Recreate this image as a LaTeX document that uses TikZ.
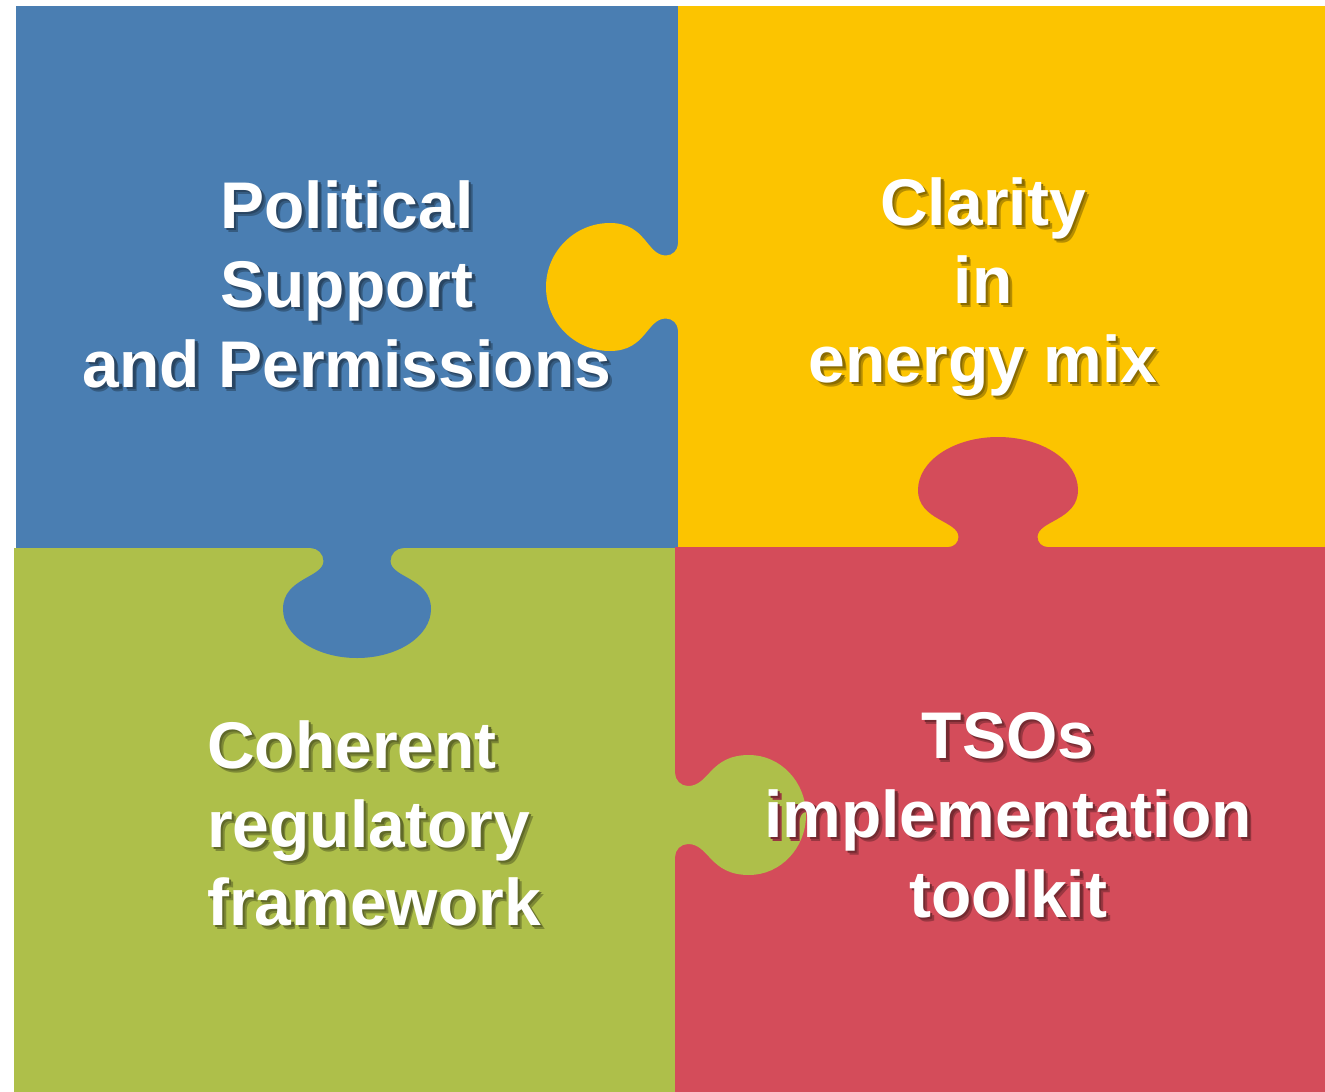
\documentclass[tikz,border=0pt]{standalone}
\usepackage{fontspec}
\setmainfont{Liberation Sans}
\definecolor{pzblue}{HTML}{4A7EB2}
\definecolor{pzyellow}{HTML}{FCC400}
\definecolor{pzgreen}{HTML}{AEBF4A}
\definecolor{pzred}{HTML}{D44C5A}
\newcommand{\ptab}[6]{% #1 colour, #2 neck half width, #3 corner radius, #4 knob rx, #5 knob ry, #6 knob centre
  \pgfmathsetmacro\pzA{#2+#3}%
  \pgfmathsetmacro\pzB{#2+0.45*#3}%
  \pgfmathsetmacro\pzC{0.45*#3}%
  \pgfmathsetmacro\pzM{#3+0.35*(#6-#3)}%
  \pgfmathsetmacro\pzK{#6+0.552*#5}%
  \pgfmathsetmacro\pzL{0.552*#4}%
  \pgfmathsetmacro\pzN{#6+#5}%
  \fill[#1] (-\pzA,-3) -- (-\pzA,0) .. controls (-\pzB,0) and (-#2,\pzC) .. (-#2,#3)
    .. controls (-#2,\pzM) and (-#4,\pzM) .. (-#4,#6)
    .. controls (-#4,\pzK) and (-\pzL,\pzN) .. (0,\pzN)
    .. controls (\pzL,\pzN) and (#4,\pzK) .. (#4,#6)
    .. controls (#4,\pzM) and (#2,\pzM) .. (#2,#3)
    .. controls (#2,\pzC) and (\pzB,0) .. (\pzA,0) -- (\pzA,-3) -- cycle;}
% text with a soft drop shadow, all in one box
\newcommand{\pzsh}[2]{%
  \rlap{\kern4pt\raisebox{-4pt}{\color{#1!72!black}#2}}%
  \rlap{\kern2.5pt\raisebox{-2.5pt}{\color{#1!55!black}#2}}%
  {\color{white}#2}}
\newcommand{\pzline}[6]{% name, anchor, x, y, shadow colour, text
  \node[pztext, anchor=#2] (#1) at (#3,#4) {\pzsh{#5}{#6}};}
\begin{document}
\begin{tikzpicture}[x=1pt,y=-1pt,
  pztext/.style={inner sep=0pt, font=\fontsize{66}{79}\selectfont\bfseries}]
\useasboundingbox (0,0) rectangle (1325,1092);
\fill[white] (0,0) rectangle (1325,1092);
% pieces
\fill[pzblue] (16,6) rectangle (678.5,548);
\fill[pzyellow] (678,6) rectangle (1325,547.5);
\fill[pzgreen] (14,548) rectangle (675.5,1092);
\fill[pzred] (675,547) rectangle (1325,1092);
% tabs
\begin{scope}[shift={(678,287)}, rotate=-90]
  \ptab{pzyellow}{31.5}{12}{64}{64}{68}
\end{scope}
\begin{scope}[shift={(998,547)}, rotate=180]
  \ptab{pzred}{39.5}{10}{80}{53}{57}
\end{scope}
\begin{scope}[shift={(357,548)}]
  \ptab{pzblue}{33.5}{13}{74}{49}{61}
\end{scope}
\begin{scope}[shift={(675,815)}, rotate=90]
  \ptab{pzgreen}{29}{13}{60}{57}{74}
\end{scope}
% texts
\pzline{b1}{base}{347}{228}{pzblue}{Political}
\pzline{b2}{base}{347}{307}{pzblue}{Support}
\pzline{b3}{base}{347}{387}{pzblue}{and Permissions}
\pzline{y1}{base}{983}{225}{pzyellow}{Clarity}
\pzline{y2}{base}{983}{303}{pzyellow}{in}
\pzline{y3}{base}{983}{382}{pzyellow}{energy mix}
\pzline{g1}{base west}{207}{768}{pzgreen}{Coherent}
\pzline{g2}{base west}{207}{847}{pzgreen}{regulatory}
\pzline{g3}{base west}{207}{925}{pzgreen}{framework}
\pzline{r1}{base}{1008}{758}{pzred}{TSOs}
\pzline{r2}{base}{1008}{837}{pzred}{implementation}
\pzline{r3}{base}{1008}{917}{pzred}{toolkit}
\end{tikzpicture}
\end{document}
